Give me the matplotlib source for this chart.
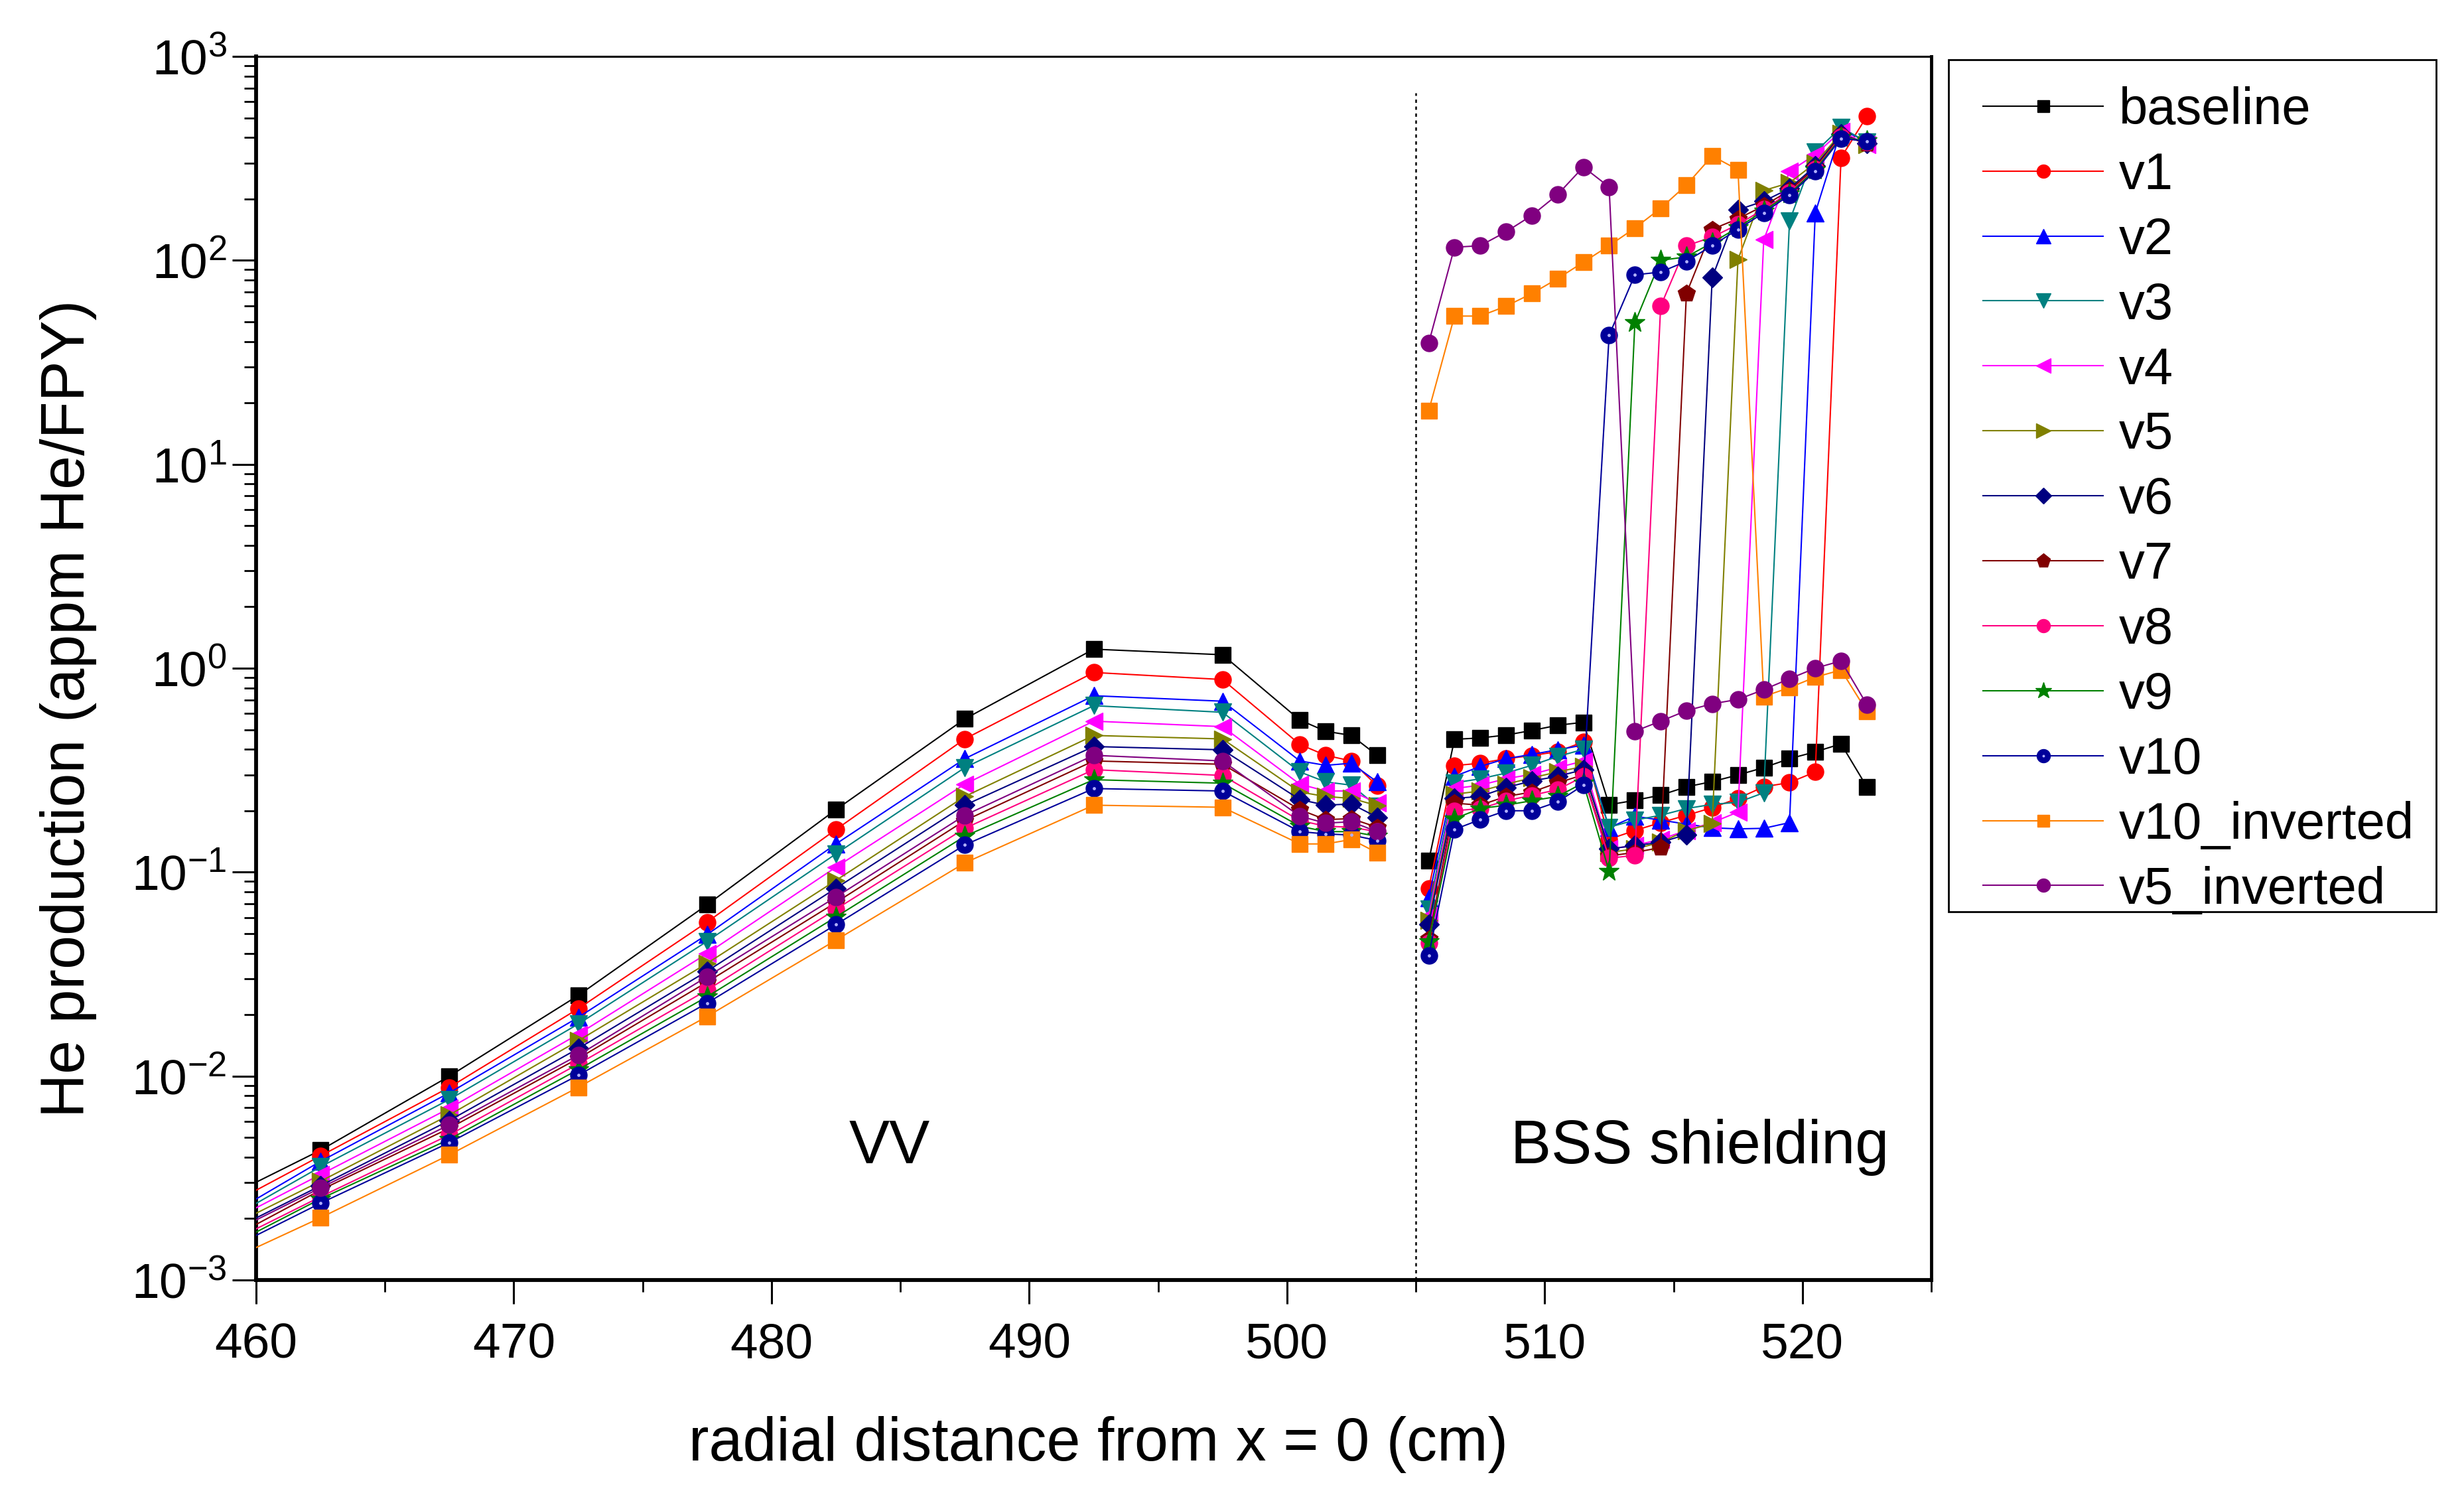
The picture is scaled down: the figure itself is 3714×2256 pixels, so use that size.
import numpy as np
import matplotlib
matplotlib.use('Agg')
import matplotlib.pyplot as plt
from matplotlib.legend_handler import HandlerTuple
from matplotlib.patches import Rectangle
from matplotlib.ticker import LogLocator, MultipleLocator, LogFormatterSciNotation, NullFormatter

plt.rcParams['font.family'] = ['Liberation Sans', 'DejaVu Sans']
plt.rcParams['mathtext.default'] = 'regular'

# ---------------- data ----------------
x_vv = [457.5, 462.5, 467.5, 472.5, 477.5, 482.5, 487.5, 492.5, 497.5, 500.5, 501.5, 502.5, 503.5]
x_bss = [505.5, 506.5, 507.5, 508.5, 509.5, 510.5, 511.5, 512.5, 513.5, 514.5,
         515.5, 516.5, 517.5, 518.5, 519.5, 520.5, 521.5, 522.5]

names = ['baseline', 'v1', 'v2', 'v3', 'v4', 'v5', 'v6', 'v7', 'v8', 'v9', 'v10',
         'v10_inverted', 'v5_inverted']

baseline_vv = [0.00210, 0.00433, 0.00999, 0.02485, 0.0692, 0.2025, 0.564, 1.24, 1.164, 0.557, 0.491, 0.468, 0.374]
v1_vv = [0.00187, 0.00406, 0.00881, 0.0214, 0.0569, 0.1618, 0.450, 0.953, 0.880, 0.423, 0.374, 0.351, 0.265]
v2_vv = [0.00163, 0.00382, 0.00828, 0.0194, 0.0494, 0.1375, 0.360, 0.733, 0.689, 0.351, 0.334, 0.342, 0.277]
v3_vv = [0.00157, 0.00359, 0.00768, 0.0180, 0.0458, 0.1229, 0.3256, 0.655, 0.608, 0.310, 0.277, 0.267, 0.210]
v4_vv = [0.00155, 0.00329, 0.00695, 0.01605, 0.0399, 0.1058, 0.270, 0.550, 0.517, 0.270, 0.250, 0.250, 0.218]
v5_vv = [0.00148, 0.00305, 0.00645, 0.0149, 0.0357, 0.0911, 0.235, 0.468, 0.450, 0.247, 0.235, 0.230, 0.212]
v6_vv = [0.00140, 0.00290, 0.00606, 0.01365, 0.0327, 0.0834, 0.213, 0.413, 0.398, 0.227, 0.213, 0.216, 0.186]
v7_vv = [0.00127, 0.00276, 0.00555, 0.0122, 0.0289, 0.0710, 0.179, 0.351, 0.338, 0.2025, 0.181, 0.183, 0.166]
v8_vv = [0.00124, 0.00256, 0.00515, 0.01146, 0.0264, 0.0658, 0.164, 0.318, 0.298, 0.179, 0.168, 0.166, 0.158]
v9_vv = [0.00118, 0.00250, 0.00490, 0.01076, 0.0245, 0.0603, 0.150, 0.284, 0.273, 0.168, 0.158, 0.158, 0.150]
v10_vv = [0.00115, 0.00238, 0.00472, 0.0101, 0.0228, 0.0553, 0.136, 0.257, 0.250, 0.158, 0.154, 0.152, 0.143]
v10inv_vv = [0.00103, 0.00202, 0.00411, 0.00881, 0.0196, 0.0464, 0.111, 0.213, 0.208, 0.1375, 0.1375, 0.1446, 0.1245]
v5inv_vv = [0.00137, 0.00283, 0.00577, 0.01266, 0.0307, 0.0755, 0.190, 0.374, 0.351, 0.188, 0.174, 0.1766, 0.158]

baseline_bss = [0.1135, 0.448, 0.455, 0.47, 0.495, 0.525, 0.543, 0.214, 0.225, 0.2385, 0.262, 0.278, 0.2995, 0.3256, 0.36, 0.389, 0.4256, 0.262]
v1_bss = [0.0830, 0.333, 0.342, 0.36, 0.373, 0.39, 0.435, 0.145, 0.16, 0.175, 0.19, 0.207, 0.23, 0.262, 0.275, 0.31, 319, 508]
v2_bss = [0.0746, 0.295, 0.33, 0.36, 0.378, 0.398, 0.42, 0.165, 0.188, 0.18, 0.172, 0.165, 0.163, 0.164, 0.175, 171, 435, 385]
v3_bss = [0.0658, 0.274, 0.287, 0.306, 0.334, 0.369, 0.40, 0.166, 0.18, 0.19, 0.205, 0.215, 0.22, 0.245, 156, 340, 449, 380]
v4_bss = [0.0611, 0.257, 0.267, 0.287, 0.302, 0.326, 0.35, 0.13, 0.135, 0.145, 0.16, 0.175, 0.197, 126, 273, 330, 430, 370]
v5_bss = [0.058, 0.241, 0.25, 0.27, 0.29, 0.31, 0.33, 0.125, 0.13, 0.14, 0.16, 0.173, 101, 220, 240, 300, 420, 370]
v6_bss = [0.0553, 0.23, 0.235, 0.26, 0.28, 0.295, 0.318, 0.13, 0.135, 0.14, 0.153, 82.3, 177, 195, 225, 290, 415, 375]
v7_bss = [0.047, 0.218, 0.213, 0.235, 0.247, 0.274, 0.30, 0.12, 0.125, 0.132, 68.8, 142, 160, 185, 220, 285, 410, 375]
v8_bss = [0.045, 0.2, 0.205, 0.224, 0.238, 0.254, 0.294, 0.117, 0.121, 59.6, 118, 130, 150, 178, 215, 280, 405, 380]
v9_bss = [0.0458, 0.183, 0.205, 0.213, 0.224, 0.235, 0.274, 0.1007, 49.4, 100, 104, 122, 145, 175, 212, 278, 400, 385]
v10_bss = [0.039, 0.162, 0.181, 0.2, 0.2, 0.221, 0.267, 42.9, 84.9, 87.6, 99, 118, 142, 171, 209, 273, 396, 384]
v10inv_bss = [18.3, 53.3, 53.3, 59.6, 68.7, 81.3, 97.9, 118, 144, 180, 234, 325, 278, 0.727, 0.803, 0.904, 0.98, 0.615]
v5inv_bss = [39.3, 115.9, 118, 138, 166, 210, 287, 229, 0.491, 0.55, 0.619, 0.669, 0.703, 0.785, 0.888, 1.0, 1.086, 0.664]

vv_data = [baseline_vv, v1_vv, v2_vv, v3_vv, v4_vv, v5_vv, v6_vv, v7_vv, v8_vv, v9_vv, v10_vv, v10inv_vv, v5inv_vv]
bss_data = [baseline_bss, v1_bss, v2_bss, v3_bss, v4_bss, v5_bss, v6_bss, v7_bss, v8_bss, v9_bss, v10_bss, v10inv_bss, v5inv_bss]

colors = ['#000000', '#FF0000', '#0000FF', '#008080', '#FF00FF', '#808000', '#000080',
          '#800000', '#FF0080', '#008000', '#00009A', '#FF8000', '#800080']
markers = ['s', 'o', '^', 'v', '<', '>', 'D', 'p', 'o', '*', 'o', 's', 'o']
msizes = [17, 18, 19, 19, 19, 19, 15, 19, 18, 23, 18, 17, 18]

# ---------------- figure ----------------
W, H = 3714, 2256
fig = plt.figure(figsize=(W / 100, H / 100), dpi=100)
ax = fig.add_axes([386 / W, 1 - 1929 / H, 2525 / W, 1844 / H])

handles = []
for i, name in enumerate(names):
    kw = dict(color=colors[i], marker=markers[i], ms=msizes[i], lw=1.5,
              mec=colors[i], mfc=colors[i], zorder=3 + i * 0.01)
    h, = ax.plot(x_vv, vv_data[i], label=name, **kw)
    ax.plot(x_bss, bss_data[i], **kw)
    if name == 'v10':
        d, = ax.plot(x_vv, vv_data[i], ls='none', marker='o', ms=3.5, mfc='#B0B0FF',
                     mec='none', zorder=3.2)
        ax.plot(x_bss, bss_data[i], ls='none', marker='o', ms=3.5, mfc='#B0B0FF',
                mec='none', zorder=3.2)
        handles.append((h, d))
    else:
        handles.append(h)

ax.set_yscale('log')
ax.set_xlim(460, 525)
ax.set_ylim(1e-3, 1e3)

ax.axvline(505, ymin=0, ymax=0.97, color='black', lw=1.8, ls=(0, (2, 2.2)), zorder=2)

ax.text(484.57, 0.00373, 'VV', ha='center', va='baseline', fontsize=66)
ax.text(516.03, 0.00373, 'BSS shielding', ha='center', va='baseline', fontsize=66)

ax.xaxis.set_major_locator(MultipleLocator(10))
ax.xaxis.set_minor_locator(MultipleLocator(5))
ax.yaxis.set_major_locator(LogLocator(base=10, numticks=20))
ax.yaxis.set_minor_locator(LogLocator(base=10, subs=np.arange(2, 10), numticks=20))
ax.yaxis.set_major_formatter(LogFormatterSciNotation())
ax.yaxis.set_minor_formatter(NullFormatter())

ax.tick_params(axis='both', which='major', direction='out', length=26, width=2.2,
               labelsize=54, top=False, right=False)
ax.tick_params(axis='both', which='minor', direction='out', length=13, width=2.0,
               top=False, right=False)
ax.tick_params(axis='x', which='major', pad=20)
ax.tick_params(axis='y', which='major', pad=6)

for side, lw in [('left', 4.2), ('bottom', 4.2), ('right', 3.5), ('top', 2.2)]:
    ax.spines[side].set_linewidth(lw)

ax.set_xlabel('radial distance from x = 0 (cm)', fontsize=66, va='center')
ax.xaxis.set_label_coords(0.5026, -0.1345)
ax.set_ylabel('He production (appm He/FPY)', fontsize=66, va='center')
ax.yaxis.set_label_coords(-0.112, 0.467)

# legend (frame drawn separately)
leg = fig.legend(handles, names, loc='upper left', bbox_to_anchor=(2989 / W, 1 - 130 / H),
                 bbox_transform=fig.transFigure, borderaxespad=0, fontsize=56,
                 handlelength=2.33, handletextpad=0.3, labelspacing=0.32, borderpad=0,
                 markerscale=0.8, frameon=False,
                 handler_map={tuple: HandlerTuple(ndivide=1)})
fig.patches.append(Rectangle((2937 / W, 1 - 1374 / H), (3672 - 2937) / W, (1374 - 90) / H,
                             transform=fig.transFigure, fill=False, edgecolor='black',
                             linewidth=2.0, zorder=5))

fig.savefig('out.png', dpi=100)
